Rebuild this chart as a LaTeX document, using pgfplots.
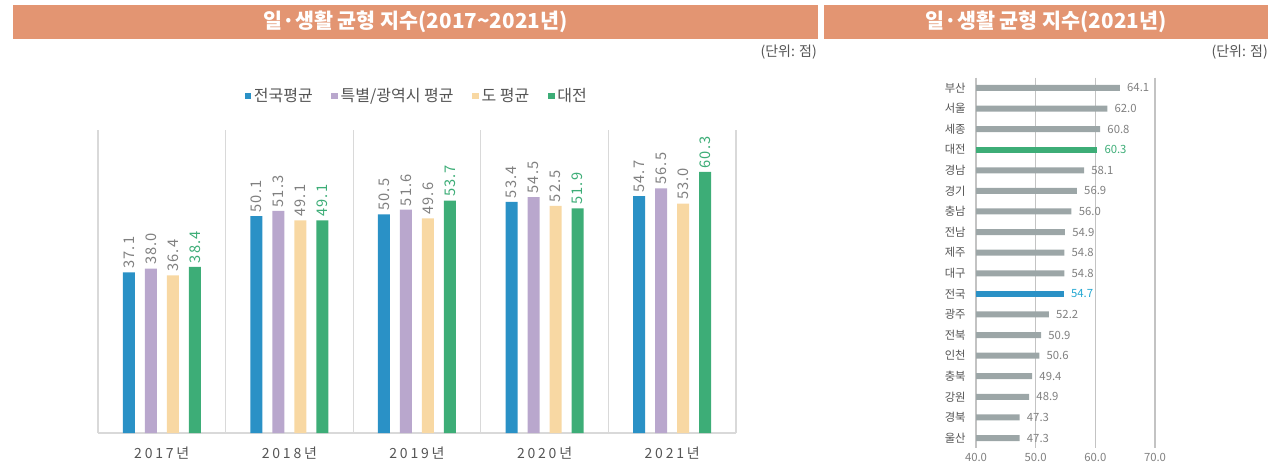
\documentclass[border=0pt]{standalone}
\usepackage{pgfplots}
\pgfplotsset{compat=1.18}
\usepackage{fontspec}
\setmainfont{Noto Sans CJK KR}
\newfontfamily\spaced{Noto Sans CJK KR}[LetterSpace=20]
\newfontfamily\numfont{Noto Sans CJK KR}[LetterSpace=8]
\definecolor{hdr}{HTML}{E39572}
\definecolor{cBlue}{HTML}{2A91C6}
\definecolor{cPurple}{HTML}{B9A7CD}
\definecolor{cYellow}{HTML}{F8D8A3}
\definecolor{cGreen}{HTML}{3DAD77}
\definecolor{cGray}{HTML}{9CA6A7}
\definecolor{txtGray}{HTML}{808080}
\definecolor{darkTxt}{HTML}{555555}
\definecolor{gridGray}{HTML}{D9D9D9}

% left panel: yearly index
\pgfplotstableread{
x nat metro prov dj
0 37.1 38.0 36.4 38.4
1 50.1 51.3 49.1 49.1
2 50.5 51.6 49.6 53.7
3 53.4 54.5 52.5 51.9
4 54.7 56.5 53.0 60.3
}\trend

% right panel: regions 2021 (row index, value)
\pgfplotstableread{
y v
0 64.1
1 62.0
2 60.8
4 58.1
5 56.9
6 56.0
7 54.9
8 54.8
9 54.8
11 52.2
12 50.9
13 50.6
14 49.4
15 48.9
16 47.3
17 47.3
}\regions

\begin{document}
\begin{tikzpicture}
% frame in pt: 1271x468 px at 0.75pt/px
\useasboundingbox (0pt,0pt) rectangle (953.25pt,351pt);

% header bars
\fill[hdr] (9.75pt,321.75pt) rectangle (613.5pt,347.25pt);
\fill[hdr] (618pt,321.75pt) rectangle (951pt,347.25pt);
\node[text=white,font=\bfseries\fontsize{15.5}{18}\selectfont] at (311.6pt,334.5pt) {일·생활 균형 지수(2017\textasciitilde 2021년)};
\node[text=white,font=\bfseries\fontsize{15.5}{18}\selectfont] at (784.5pt,334.5pt) {일·생활 균형 지수(2021년)};
\node[anchor=east,text=darkTxt,font=\fontsize{10.5}{12}\selectfont,inner sep=0pt] at (612.75pt,312pt) {(단위: 점)};
\node[anchor=east,text=darkTxt,font=\fontsize{10.5}{12}\selectfont,inner sep=0pt] at (951pt,312pt) {(단위: 점)};

% left chart
\begin{axis}[
  at={(73.5pt,26.25pt)}, anchor=south west, scale only axis,
  width=478.5pt, height=227.25pt,
  ybar=7.5pt, bar width=9pt,
  xmin=-0.5, xmax=4.5, ymin=0, ymax=70,
  axis x line*=bottom, axis y line=none,
  x axis line style={draw=gridGray,line width=1pt,-},
  xtick={0,...,4},
  xticklabels={2017년,2018년,2019년,2020년,2021년},
  minor xtick={-0.5,0.5,1.5,2.5,3.5,4.5},
  xminorgrids=true,
  minor grid style={draw=gridGray,line width=0.8pt},
  tick style={draw=none},
  xticklabel style={font=\spaced\fontsize{10.5}{12}\selectfont,text=darkTxt,yshift=-3pt},
  nodes near coords={\pgfmathprintnumber[fixed,fixed zerofill,precision=1,assume math mode=true]{\pgfplotspointmeta}},
  every node near coord/.append style={rotate=90,anchor=west,font=\numfont\fontsize{11}{12}\selectfont,text=txtGray,inner sep=2.5pt},
  legend style={at={(0.5,1.112)},anchor=center,legend columns=4,draw=none,fill=none,
    font=\fontsize{12}{14}\selectfont,text=darkTxt,
    /tikz/every even column/.append style={column sep=12pt}},
  legend image code/.code={\fill[#1,draw=none] (1pt,-2.5pt) rectangle (6pt,2.5pt);},
  clip=false,
]
\addplot[fill=cBlue,draw=none] table[x=x,y=nat] {\trend};
\addplot[fill=cPurple,draw=none] table[x=x,y=metro] {\trend};
\addplot[fill=cYellow,draw=none] table[x=x,y=prov] {\trend};
\addplot[fill=cGreen,draw=none,every node near coord/.append style={text=cGreen}] table[x=x,y=dj] {\trend};
\legend{전국평균,특별/광역시 평균,도 평균,대전}
\end{axis}

% right chart
\begin{axis}[
  at={(732pt,14.775pt)}, anchor=south west, scale only axis,
  width=134.25pt, height=278pt,
  xbar, bar width=4.5pt, bar shift=0pt,
  xmin=40, xmax=70, ymin=-0.5, ymax=17.5, y dir=reverse,
  axis line style={draw=none},
  xtick={40,50,60,70},
  xmajorgrids=true,
  major grid style={draw=gridGray!90!black,line width=0.8pt},
  ytick={0,...,17},
  yticklabels={부산,서울,세종,대전,경남,경기,충남,전남,제주,대구,전국,광주,전북,인천,충북,강원,경북,울산},
  tick style={draw=none},
  yticklabel style={font=\fontsize{8.5}{10}\selectfont,text=darkTxt},
  xticklabel style={font=\fontsize{8.5}{10}\selectfont,text=txtGray,
    /pgf/number format/.cd,fixed,fixed zerofill,precision=1,assume math mode=true},
  point meta=x,
  nodes near coords={\pgfmathprintnumber[fixed,fixed zerofill,precision=1,assume math mode=true]{\pgfplotspointmeta}},
  every node near coord/.append style={anchor=west,font=\fontsize{8.5}{10}\selectfont,text=txtGray,xshift=2pt},
]
\addplot[fill=cGray,draw=none] table[x=v,y=y] {\regions};
\addplot[fill=cGreen,draw=none,every node near coord/.append style={text=cGreen}] coordinates {(60.3,3)};
\addplot[fill=cBlue,draw=none,every node near coord/.append style={text=cBlue!80!cyan}] coordinates {(54.7,10)};
\end{axis}
\end{tikzpicture}
\end{document}
